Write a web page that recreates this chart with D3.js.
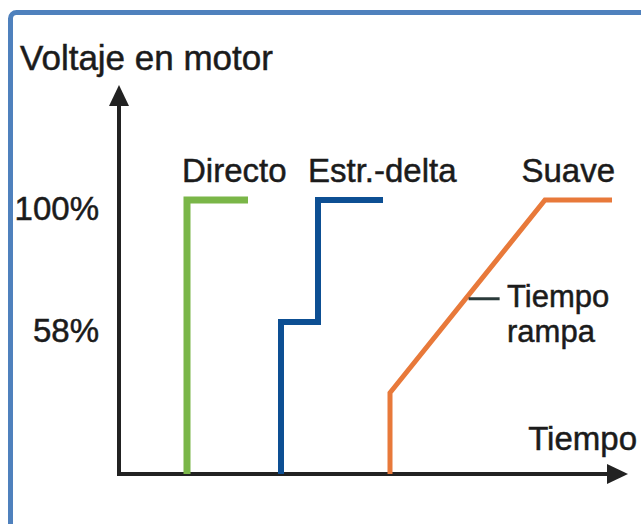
<!DOCTYPE html>
<html>
<head>
<meta charset="utf-8">
<script src="https://cdn.jsdelivr.net/npm/d3@7"></script>
<style>
  html, body { margin: 0; padding: 0; background: #fff; }
  svg { display: block; }
  text { font-family: "Liberation Sans", Arial, sans-serif; fill: #1b1b1b; stroke: #1b1b1b; stroke-width: 0.5px; }
</style>
</head>
<body>
<svg id="chart" width="641" height="524"></svg>
<script>
// Data (time in arbitrary units 0-100, voltage in %)
const directo = [[13.6, 0], [13.6, 100], [25.8, 100]];
const estrella = [[32.4, 0], [32.4, 58], [39.8, 58], [39.8, 100], [52.8, 100]];
const suave = [[54.2, 0], [54.2, 31], [85.2, 100], [98.6, 100]];
const seriesNames = ["Directo", "Estr.-delta", "Suave"];
const yTicks = [58, 100];
const rampNoteValue = 66;

const svg = d3.select("#chart");

// outer frame (cut off on the right and bottom)
svg.append("rect")
  .attr("x", 10.5).attr("y", 12.5)
  .attr("width", 700).attr("height", 600)
  .attr("rx", 6)
  .attr("fill", "none")
  .attr("stroke", "#4f81bd")
  .attr("stroke-width", 5);

const x = d3.scaleLinear().domain([0, 100]).range([119, 619]);
const y = d3.scaleLinear().domain([0, 58, 100]).range([474, 322, 200]);

const axisColor = "#222";

// axes with arrow heads
svg.append("path")
  .attr("d", `M${x(0)},${y(0)}V${100}M${x(0)},${y(0)}H${613}`)
  .attr("fill", "none")
  .attr("stroke", axisColor)
  .attr("stroke-width", 4)
  .attr("stroke-linecap", "square");

svg.append("path")
  .attr("d", `M${x(0)},85L${x(0) - 10},106L${x(0) + 10},106Z`)
  .attr("fill", axisColor);
svg.append("path")
  .attr("d", `M628,${y(0)}L607,${y(0) - 10}L607,${y(0) + 10}Z`)
  .attr("fill", axisColor);

// titles
svg.append("text")
  .attr("x", 20).attr("y", 70)
  .attr("font-size", 35)
  .text("Voltaje en motor");

svg.append("text")
  .attr("x", 637).attr("y", 450)
  .attr("text-anchor", "end")
  .attr("font-size", 33)
  .text("Tiempo");

// y tick labels
svg.selectAll(".tick")
  .data(yTicks)
  .join("text")
  .attr("class", "tick")
  .attr("x", 99)
  .attr("y", d => y(d) + 20)
  .attr("text-anchor", "end")
  .attr("font-size", 33)
  .text(d => d + "%");

// series
const line = d3.line().x(d => x(d[0])).y(d => y(d[1]));
const series = [
  { name: seriesNames[0], data: directo, color: "#7ab648", width: 7 },
  { name: seriesNames[1], data: estrella, color: "#0d4f93", width: 6 },
  { name: seriesNames[2], data: suave, color: "#e8793a", width: 5 }
];

svg.append("g")
  .selectAll("path")
  .data(series)
  .join("path")
  .attr("d", d => line(d.data))
  .attr("fill", "none")
  .attr("stroke", d => d.color)
  .attr("stroke-width", d => d.width)
  .attr("stroke-linejoin", "miter");

// series labels
const labelPos = [
  { anchor: "start", px: x(directo[0][0]) - 5 },
  { anchor: "start", px: x(estrella[2][0]) - 10 },
  { anchor: "end", px: x(suave[3][0]) + 3 }
];
svg.append("g")
  .selectAll("text")
  .data(series)
  .join("text")
  .attr("x", (d, i) => labelPos[i].px)
  .attr("y", 182)
  .attr("text-anchor", (d, i) => labelPos[i].anchor)
  .attr("font-size", 33)
  .text(d => d.name);

// ramp annotation
const r0 = suave[1], r1 = suave[2];
const f = (rampNoteValue - r0[1]) / (r1[1] - r0[1]);
const noteX = x(d3.interpolateNumber(r0[0], r1[0])(f));
const noteY = y(rampNoteValue);
svg.append("line")
  .attr("x1", noteX).attr("y1", noteY)
  .attr("x2", noteX + 31).attr("y2", noteY)
  .attr("stroke", "#2a3a3a")
  .attr("stroke-width", 3);

svg.append("text")
  .attr("x", 507).attr("y", 307)
  .attr("font-size", 31)
  .text("Tiempo");
svg.append("text")
  .attr("x", 507).attr("y", 342)
  .attr("font-size", 31)
  .text("rampa");
</script>
</body>
</html>
